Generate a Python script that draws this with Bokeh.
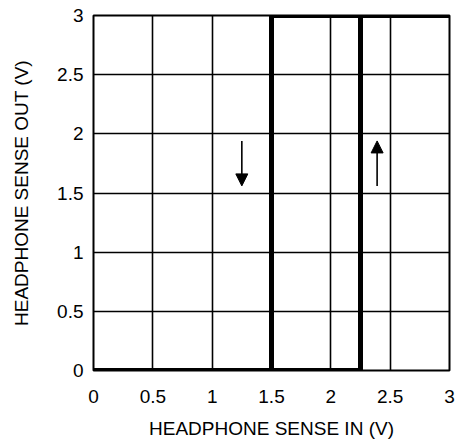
from bokeh.plotting import figure
from bokeh.models import Range1d, FixedTicker, Arrow, NormalHead
from bokeh.embed import file_html
from bokeh.resources import INLINE

ticks = [0, 0.5, 1, 1.5, 2, 2.5, 3]
tick_labels = ["0", "0.5", "1", "1.5", "2", "2.5", "3"]

# hysteresis path (threshold rising 2.25 V, falling 1.5 V)
rise_x = [0, 2.25, 2.25, 3]
rise_y = [0, 0, 3, 3]
fall_x = [3, 1.5, 1.5, 0]
fall_y = [3, 3, 0, 0]

# arrows: (x, y_start, y_end)
down_arrow = (1.25, 1.94, 1.56)
up_arrow = (2.39, 1.56, 1.94)

FONT = "Liberation Sans"

p = figure(width=458, height=446, output_backend="svg", toolbar_location=None,
           x_range=Range1d(0, 3), y_range=Range1d(0, 3),
           min_border_left=93, min_border_top=15, min_border_right=9, min_border_bottom=76)
p.background_fill_color = "white"
p.border_fill_color = "white"
p.outline_line_color = "black"
p.outline_line_width = 2

for ax in (p.xaxis[0], p.yaxis[0]):
    ax.ticker = FixedTicker(ticks=ticks)
    ax.major_label_overrides = {t: l for t, l in zip(ticks, tick_labels)}
    ax.major_tick_line_color = None
    ax.minor_tick_line_color = None
    ax.major_tick_out = 0
    ax.major_tick_in = 0
    ax.minor_tick_out = 0
    ax.minor_tick_in = 0
    ax.axis_line_color = None
    ax.major_label_text_font = FONT
    ax.major_label_text_font_size = "19px"
    ax.major_label_text_color = "black"
    ax.axis_label_text_font = FONT
    ax.axis_label_text_font_style = "normal"
    ax.axis_label_text_color = "black"
    ax.axis_label_text_font_size = "19px"

p.xaxis.major_label_standoff = 19
p.yaxis.major_label_standoff = 10
p.xaxis.axis_label = "HEADPHONE SENSE IN (V)"
p.yaxis.axis_label = "HEADPHONE SENSE OUT (V)"
p.xaxis.axis_label_standoff = 12
p.yaxis.axis_label_standoff = 22

for g in (p.xgrid[0], p.ygrid[0]):
    g.ticker = FixedTicker(ticks=ticks)
    g.grid_line_color = "black"
    g.grid_line_width = 1.6
    g.grid_line_alpha = 1

p.line(rise_x, rise_y, line_color="black", line_width=5)
p.line(fall_x, fall_y, line_color="black", line_width=5)

for (ax_, y0, y1) in (down_arrow, up_arrow):
    p.add_layout(Arrow(end=NormalHead(size=12, fill_color="black", line_color="black", line_width=1),
                       x_start=ax_, y_start=y0, x_end=ax_, y_end=y1,
                       line_color="black", line_width=1.6))

open("out.html", "w").write(file_html(p, INLINE))
